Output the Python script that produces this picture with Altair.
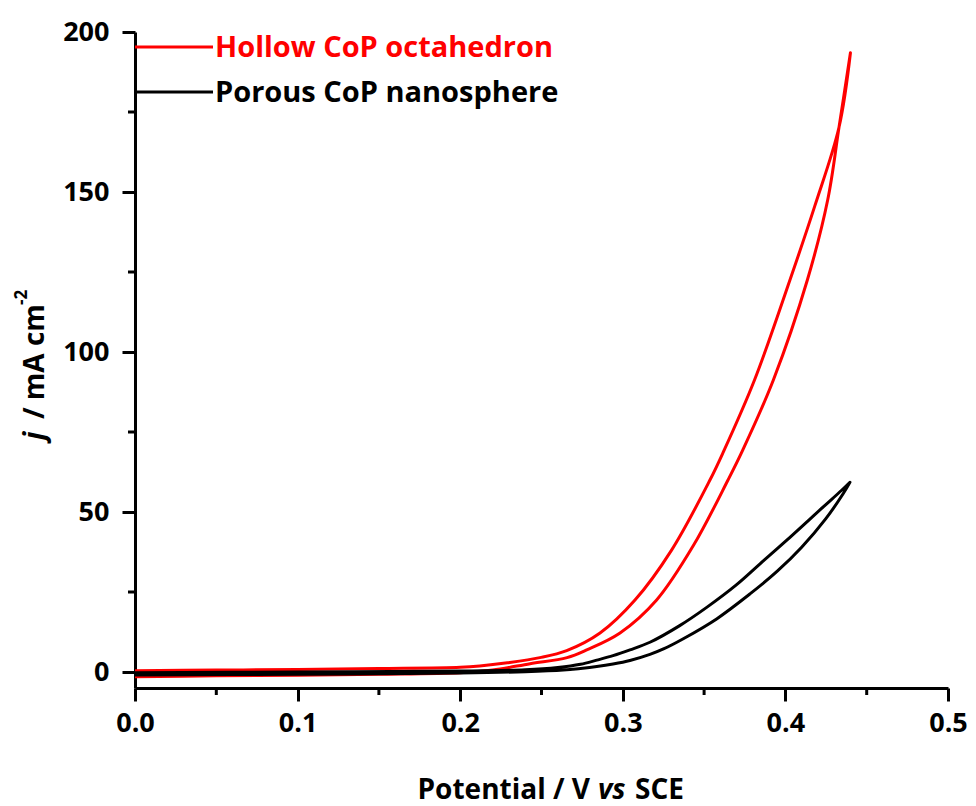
import altair as alt
import pandas as pd

# Cyclic sweeps, potential in V vs SCE and current density in mA cm^-2.
# Each series is stored as its lower (forward) and upper (return) branch, ascending in potential.
hollow_lower_v = [0.000, 0.050, 0.100, 0.150, 0.200, 0.220, 0.243, 0.2657, 0.2778, 0.2983,
                  0.3208, 0.3434, 0.3647, 0.3739, 0.3926, 0.4135, 0.426, 0.433, 0.440]
hollow_lower_j = [-1.5, -1.2, -1.0, -0.7, -0.2, 0.6, 2.6, 4.5, 6.9, 12.2,
                  22.5, 39.5, 60.0, 69.5, 91.25, 122.5, 147.5, 170.3, 193.5]
hollow_upper_v = [0.000, 0.050, 0.100, 0.150, 0.200, 0.212, 0.229, 0.249, 0.2655, 0.286,
                  0.3075, 0.330, 0.3536, 0.3616, 0.381, 0.4028, 0.418, 0.433, 0.440]
hollow_upper_j = [0.4, 0.6, 0.8, 1.1, 1.5, 1.9, 2.9, 4.5, 6.7, 12.2,
                  22.5, 38.1, 60.0, 68.5, 91.25, 122.5, 145.5, 170.3, 193.5]

porous_lower_v = [0.000, 0.100, 0.200, 0.240, 0.2634, 0.274, 0.284, 0.294, 0.3044, 0.3167,
                  0.325, 0.3372, 0.3577, 0.3782, 0.395, 0.410, 0.425, 0.4356, 0.4397]
porous_lower_j = [-0.9, -0.7, -0.3, 0.1, 0.6, 1.1, 1.7, 2.5, 3.6, 5.5,
                  7.2, 10.4, 16.6, 24.4, 31.5, 39.0, 48.0, 55.8, 59.3]
porous_upper_v = [0.000, 0.100, 0.200, 0.240, 0.260, 0.274, 0.284, 0.294, 0.3044, 0.3167,
                  0.335, 0.3516, 0.370, 0.3844, 0.400, 0.4233, 0.4346, 0.4397]
porous_upper_j = [-0.2, 0.0, 0.3, 0.7, 1.4, 2.4, 3.7, 5.1, 6.9, 9.3,
                  14.5, 20.2, 27.3, 33.8, 40.8, 51.6, 56.8, 59.3]

series_names = ["Hollow CoP octahedron", "Porous CoP nanosphere"]
series_colors = ["#ff0000", "#000000"]

x_major = [0.0, 0.1, 0.2, 0.3, 0.4, 0.5]
x_minor = [0.05, 0.15, 0.25, 0.35, 0.45]
y_major = [0, 50, 100, 150, 200]
y_minor = [25, 75, 125, 175]

W, H = 813, 656
FONT = "Open Sans"


def loop_frame(name, lo_v, lo_j, up_v, up_j):
    """Forward sweep along the lower branch, then back along the upper one."""
    v = list(lo_v) + list(reversed(up_v))
    j = list(lo_j) + list(reversed(up_j))
    return pd.DataFrame({"series": name, "idx": range(len(v)), "v": v, "j": j})


hollow = loop_frame(series_names[0], hollow_lower_v, hollow_lower_j, hollow_upper_v, hollow_upper_j)
porous = loop_frame(series_names[1], porous_lower_v, porous_lower_j, porous_upper_v, porous_upper_j)

x_scale = alt.Scale(domain=[0, 0.5], nice=False, zero=False)
y_scale = alt.Scale(domain=[-5, 200], nice=False, zero=False)

axis_style = dict(
    grid=False, domainColor="black", domainWidth=3, tickColor="black", tickWidth=3,
    tickSize=13, labelFont=FONT, labelFontWeight="bold", labelFontSize=27,
    labelColor="black", title=None, labelFlush=False,
)
x_axis = alt.Axis(values=x_major, format=".1f", labelPadding=9, **axis_style)
y_axis = alt.Axis(values=y_major, format="d", labelPadding=13, **axis_style)


def curve(df, color):
    return alt.Chart(df).mark_line(
        color=color, strokeWidth=3, strokeJoin="round", interpolate="catmull-rom"
    ).encode(
        x=alt.X("v:Q", scale=x_scale, axis=x_axis),
        y=alt.Y("j:Q", scale=y_scale, axis=y_axis),
        order="idx:Q",
    )


minor_x = alt.Chart(pd.DataFrame({"v": x_minor})).mark_rule(color="black", strokeWidth=3).encode(
    x=alt.X("v:Q", scale=x_scale, axis=x_axis), y=alt.value(H), y2=alt.value(H + 7)
)
minor_y = alt.Chart(pd.DataFrame({"j": y_minor})).mark_rule(color="black", strokeWidth=3).encode(
    y=alt.Y("j:Q", scale=y_scale, axis=y_axis), x=alt.value(0), x2=alt.value(-7)
)

# Legend drawn inside the plot's upper-left corner
legend_layers = []
for k, (name, col) in enumerate(zip(series_names, series_colors)):
    ly = 15 + 45 * k
    d = pd.DataFrame({"t": [name]})
    legend_layers.append(
        alt.Chart(d).mark_rule(color=col, strokeWidth=3).encode(
            x=alt.value(0), x2=alt.value(78), y=alt.value(ly)
        )
    )
    legend_layers.append(
        alt.Chart(d).mark_text(
            font=FONT, fontWeight="bold", fontSize=29, color=col, align="left",
            baseline="alphabetic",
        ).encode(x=alt.value(80), y=alt.value(ly + 10), text="t:N")
    )


def label(text, x, y, size=28, italic=False, angle=0, align="left"):
    kw = dict(font=FONT, fontWeight="bold", fontSize=size, color="black", align=align,
              baseline="alphabetic")
    if italic:
        kw["fontStyle"] = "italic"
    if angle:
        kw["angle"] = angle
    return alt.Chart(pd.DataFrame({"t": [text]})).mark_text(**kw).encode(
        x=alt.value(x), y=alt.value(y), text="t:N"
    )


x_title = [
    label("Potential / V", 455, 767, align="right"),
    label("vs", 463, 767, italic=True),
    label("SCE", 500, 767),
]
y_title = [
    label("j", -91, 408, italic=True, angle=270),
    label("/ mA cm", -91, 387, angle=270),
    label("-2", -108, 273, size=17, angle=270),
]

chart = alt.layer(
    curve(hollow, series_colors[0]),
    curve(porous, series_colors[1]),
    minor_x,
    minor_y,
    *legend_layers,
    *x_title,
    *y_title,
).properties(
    width=W,
    height=H,
    autosize=alt.AutoSizeParams(type="none"),
    padding={"left": 135, "top": 32, "right": 28, "bottom": 118},
    background="white",
).configure_view(stroke=None).configure_axisX(orient="bottom").configure_axisY(orient="left")

chart.save("out.html", embed_options={"renderer": "svg", "actions": False})
